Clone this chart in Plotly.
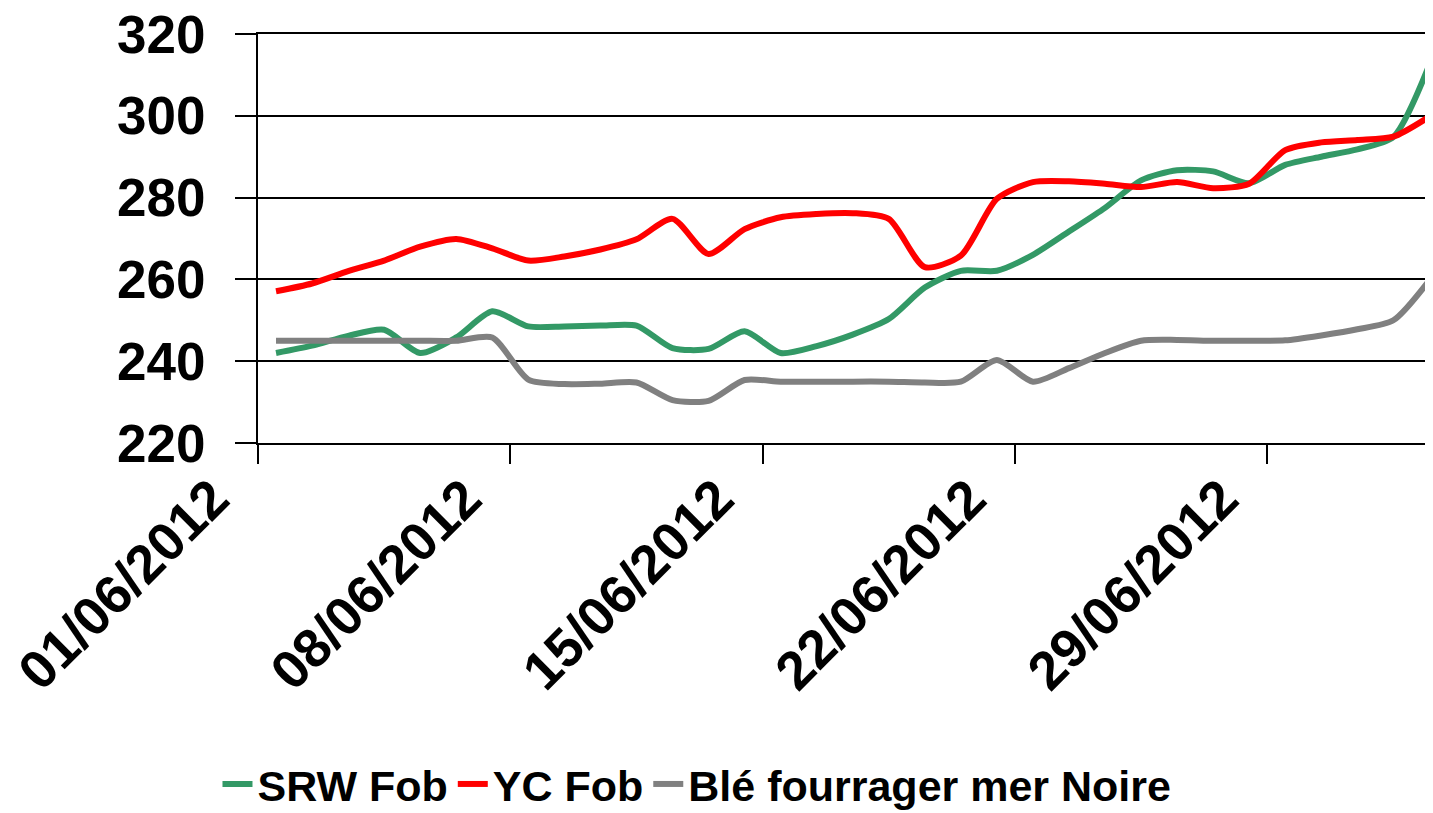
import pandas as pd
import plotly.graph_objects as go

# ---- data (daily values, 01/06/2012 .. 03/07/2012) ----
dates = pd.date_range("2012-06-01", "2012-07-03", freq="D")

srw_fob = [242.0, 243.8, 246.2, 247.7, 242.0, 245.8, 252.2, 248.5, 248.5, 248.7,
           248.7, 243.2, 243.0, 247.3, 242.0, 243.7, 246.5, 250.3, 258.0, 262.1,
           262.1, 266.0, 271.7, 277.5, 284.2, 286.7, 286.4, 283.5, 288.0, 290.0,
           291.8, 294.8, 312.5]

yc_fob = [257.1, 259.0, 262.0, 264.6, 268.0, 269.9, 267.6, 264.6, 265.6, 267.3,
          269.8, 274.8, 266.2, 272.3, 275.2, 276.0, 276.2, 274.8, 263.0, 265.8,
          279.7, 283.8, 284.0, 283.4, 282.6, 283.8, 282.3, 283.4, 291.6, 293.5,
          294.1, 294.9, 299.8]

ble_mer_noire = [245.0, 245.0, 245.0, 245.0, 245.0, 245.0, 245.8, 235.5, 234.4, 234.5,
                 234.8, 230.5, 230.3, 235.4, 235.0, 235.0, 235.0, 235.0, 234.8, 235.0,
                 240.3, 235.0, 238.3, 242.0, 245.0, 245.2, 245.0, 245.0, 245.1, 246.3,
                 247.8, 250.0, 259.8]

series_names = ["SRW Fob", "YC Fob", "Blé fourrager mer Noire"]
series_colors = ["#339966", "#FF0000", "#808080"]

tick_dates = ["2012-06-01", "2012-06-08", "2012-06-15", "2012-06-22", "2012-06-29"]
tick_labels = ["01/06/2012", "08/06/2012", "15/06/2012", "22/06/2012", "29/06/2012"]
y_ticks = [220, 240, 260, 280, 300, 320]

# points sit in the middle of each day (Excel date axis, between tick marks)
x_pos = dates + pd.Timedelta(hours=12)

FONT = "Liberation Sans, Arial, sans-serif"

# the page body keeps its default 8px margin, so the figure is 8px smaller
W, H = 1425, 805

fig = go.Figure()
for name, vals, col in zip(series_names, [srw_fob, yc_fob, ble_mer_noire], series_colors):
    fig.add_trace(go.Scatter(
        x=x_pos, y=vals, name=name, mode="lines",
        line=dict(color=col, width=6, shape="spline", smoothing=0.7),
    ))

fig.update_layout(
    width=W, height=H,
    margin=dict(l=250, r=0, t=26, b=370, autoexpand=False),
    paper_bgcolor="white", plot_bgcolor="white",
    font=dict(family=FONT, color="black", weight="bold"),
    showlegend=True,
    legend=dict(
        orientation="h", xref="container", x=0.4835, xanchor="center",
        yref="container", y=(H - 776) / H, yanchor="middle",
        font=dict(family=FONT, size=43, color="black", weight="bold"),
        itemwidth=30, tracegroupgap=0,
    ),
)

fig.update_xaxes(
    type="date", automargin=False,
    range=["2012-06-01 00:00", "2012-07-03 14:24"],
    tickmode="array", tickvals=tick_dates, ticktext=tick_labels,
    tickangle=-45,
    tickfont=dict(family=FONT, size=54, color="black", weight="bold"),
    ticks="outside", ticklen=19, tickwidth=2, tickcolor="black",
    ticklabelshift=-45, ticklabelstandoff=-19,
    ticklabeloverflow="allow",
    showline=True, linecolor="black", linewidth=2, mirror=True,
    showgrid=False, zeroline=False,
)

fig.update_yaxes(
    range=[220, 320], automargin=False,
    tickmode="array", tickvals=y_ticks,
    tickfont=dict(family=FONT, size=53, color="black", weight="bold"),
    ticks="outside", ticklen=21, tickwidth=2, tickcolor="black",
    ticklabelstandoff=19, ticklabeloverflow="allow",
    showline=True, linecolor="black", linewidth=2,
    showgrid=True, gridcolor="black", gridwidth=2,
    zeroline=False,
)

fig.write_html("out.html")
